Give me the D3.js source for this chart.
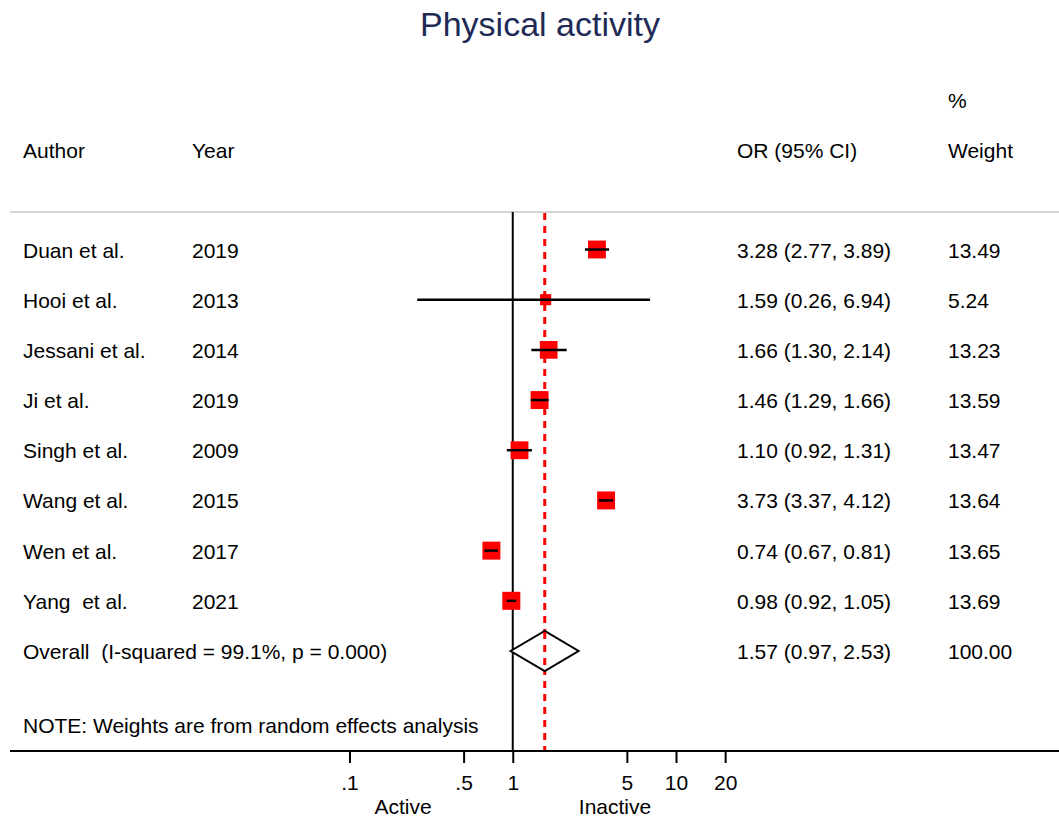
<!DOCTYPE html>
<html>
<head>
<meta charset="utf-8">
<script src="https://cdn.jsdelivr.net/npm/d3@7"></script>
<style>
  body { margin: 0; background: #fff; }
  svg text { font-family: "Liberation Sans", Arial, sans-serif; fill: #000; white-space: pre; }
</style>
</head>
<body>
<div id="chart"></div>
<script>

//data
var authors = ["Duan et al.", "Hooi et al.", "Jessani et al.", "Ji et al.", "Singh et al.", "Wang et al.", "Wen et al.", "Yang  et al."];
var years = ["2019", "2013", "2014", "2019", "2009", "2015", "2017", "2021"];
var or = [3.28, 1.59, 1.66, 1.46, 1.10, 3.73, 0.74, 0.98];
var lower = [2.77, 0.26, 1.30, 1.29, 0.92, 3.37, 0.67, 0.92];
var upper = [3.89, 6.94, 2.14, 1.66, 1.31, 4.12, 0.81, 1.05];
var weights = [13.49, 5.24, 13.23, 13.59, 13.47, 13.64, 13.65, 13.69];
var overall = {or: 1.57, lower: 0.97, upper: 2.53, weight: 100.00};
var overallLabel = "Overall  (I-squared = 99.1%, p = 0.000)";
var tickValues = [0.1, 0.5, 1, 5, 10, 20];
var tickLabels = [".1", ".5", "1", "5", "10", "20"];

var width = 1059, height = 821;
var fs = 21;

var svg = d3.select("#chart")
            .append("svg")
            .attr("width", width)
            .attr("height", height);

//scales
var xScale = d3.scaleLog()
               .domain([0.1, 10])
               .range([349.5, 676]);

var yScale = d3.scaleLinear()
               .domain([0, 8])
               .range([249.5, 651]);

var sizeScale = d3.scaleSqrt()
                  .domain([0, 13.69])
                  .range([0, 18]);

var fmt = d3.format(".2f");

//title
svg.append("text")
    .attr("x", 540)
    .attr("y", 36)
    .style("text-anchor", "middle")
    .style("font-size", "34px")
    .style("fill", "#1e2b55")
    .text("Physical activity");

//headers
svg.append("text").attr("x", 23).attr("y", 158).style("font-size", fs + "px").text("Author");
svg.append("text").attr("x", 192).attr("y", 158).style("font-size", fs + "px").text("Year");
svg.append("text").attr("x", 737).attr("y", 158).style("font-size", fs + "px").text("OR (95% CI)");
svg.append("text").attr("x", 948).attr("y", 108).style("font-size", fs + "px").text("%");
svg.append("text").attr("x", 948).attr("y", 158).style("font-size", fs + "px").text("Weight");

//top rule
svg.append("line")
    .attr("x1", 10).attr("x2", 1059)
    .attr("y1", 212).attr("y2", 212)
    .style("stroke", "#c6c6c6")
    .style("stroke-width", 1.5);

//null line and overall line
svg.append("line")
    .attr("x1", xScale(1)).attr("x2", xScale(1))
    .attr("y1", 212).attr("y2", 751)
    .style("stroke", "#000")
    .style("stroke-width", 2);

svg.append("line")
    .attr("x1", xScale(overall.or)).attr("x2", xScale(overall.or))
    .attr("y1", 213).attr("y2", 750)
    .style("stroke", "#ff0000")
    .style("stroke-width", 3)
    .style("stroke-dasharray", "7,6");

//rows
var rows = authors.map(function(a, i) {
  return {author: a, year: years[i], or: or[i], lo: lower[i], hi: upper[i], w: weights[i], i: i};
});

var g = svg.selectAll(".row")
           .data(rows)
           .enter()
           .append("g")
           .attr("class", "row");

g.append("rect")
  .attr("x", function(d) { return xScale(d.or) - sizeScale(d.w) / 2; })
  .attr("y", function(d) { return yScale(d.i) - sizeScale(d.w) / 2; })
  .attr("width", function(d) { return sizeScale(d.w); })
  .attr("height", function(d) { return sizeScale(d.w); })
  .style("fill", "#ff0000");

g.append("line")
  .attr("x1", function(d) { return xScale(d.lo); })
  .attr("x2", function(d) { return xScale(d.hi); })
  .attr("y1", function(d) { return yScale(d.i); })
  .attr("y2", function(d) { return yScale(d.i); })
  .style("stroke", "#000")
  .style("stroke-width", 2.5);

g.append("text")
  .attr("x", 23)
  .attr("y", function(d) { return yScale(d.i) + 8; })
  .style("font-size", fs + "px")
  .text(function(d) { return d.author; });

g.append("text")
  .attr("x", 192)
  .attr("y", function(d) { return yScale(d.i) + 8; })
  .style("font-size", fs + "px")
  .text(function(d) { return d.year; });

g.append("text")
  .attr("x", 737)
  .attr("y", function(d) { return yScale(d.i) + 8; })
  .style("font-size", fs + "px")
  .text(function(d) { return fmt(d.or) + " (" + fmt(d.lo) + ", " + fmt(d.hi) + ")"; });

g.append("text")
  .attr("x", 948)
  .attr("y", function(d) { return yScale(d.i) + 8; })
  .style("font-size", fs + "px")
  .text(function(d) { return fmt(d.w); });

//overall diamond
var oy = yScale(8);
svg.append("path")
    .attr("d", "M" + xScale(overall.lower) + "," + oy +
               "L" + xScale(overall.or) + "," + (oy - 20) +
               "L" + xScale(overall.upper) + "," + oy +
               "L" + xScale(overall.or) + "," + (oy + 20) + "Z")
    .style("fill", "#fff")
    .style("stroke", "#000")
    .style("stroke-width", 2);

// redraw dashed line segment over the diamond fill
svg.append("line")
    .attr("x1", xScale(overall.or)).attr("x2", xScale(overall.or))
    .attr("y1", oy - 19).attr("y2", oy + 19)
    .style("stroke", "#ff0000")
    .style("stroke-width", 3)
    .style("stroke-dasharray", "7,6");

svg.append("text").attr("x", 23).attr("y", oy + 8).style("font-size", fs + "px").text(overallLabel);
svg.append("text").attr("x", 737).attr("y", oy + 8).style("font-size", fs + "px")
    .text(fmt(overall.or) + " (" + fmt(overall.lower) + ", " + fmt(overall.upper) + ")");
svg.append("text").attr("x", 948).attr("y", oy + 8).style("font-size", fs + "px").text(fmt(overall.weight));

//note
svg.append("text")
    .attr("x", 23)
    .attr("y", 733)
    .style("font-size", fs + "px")
    .text("NOTE: Weights are from random effects analysis");

//x axis
svg.append("line")
    .attr("x1", 10).attr("x2", 1059)
    .attr("y1", 751).attr("y2", 751)
    .style("stroke", "#000")
    .style("stroke-width", 2);

var xAxis = d3.axisBottom(xScale)
              .tickValues(tickValues)
              .tickFormat(function(d, i) { return tickLabels[i]; })
              .tickSizeInner(12)
              .tickSizeOuter(0)
              .tickPadding(12);

var ax = svg.append("g")
            .attr("transform", "translate(0,751)")
            .call(xAxis);

ax.select(".domain").remove();
ax.selectAll(".tick line").style("stroke", "#000").style("stroke-width", 2);
ax.selectAll(".tick text")
  .style("font-family", "'Liberation Sans', Arial, sans-serif")
  .style("font-size", fs + "px")
  .style("fill", "#000");

//axis side labels
svg.append("text").attr("x", 403).attr("y", 814).style("text-anchor", "middle").style("font-size", fs + "px").text("Active");
svg.append("text").attr("x", 615).attr("y", 814).style("text-anchor", "middle").style("font-size", fs + "px").text("Inactive");

</script>
</body>
</html>
